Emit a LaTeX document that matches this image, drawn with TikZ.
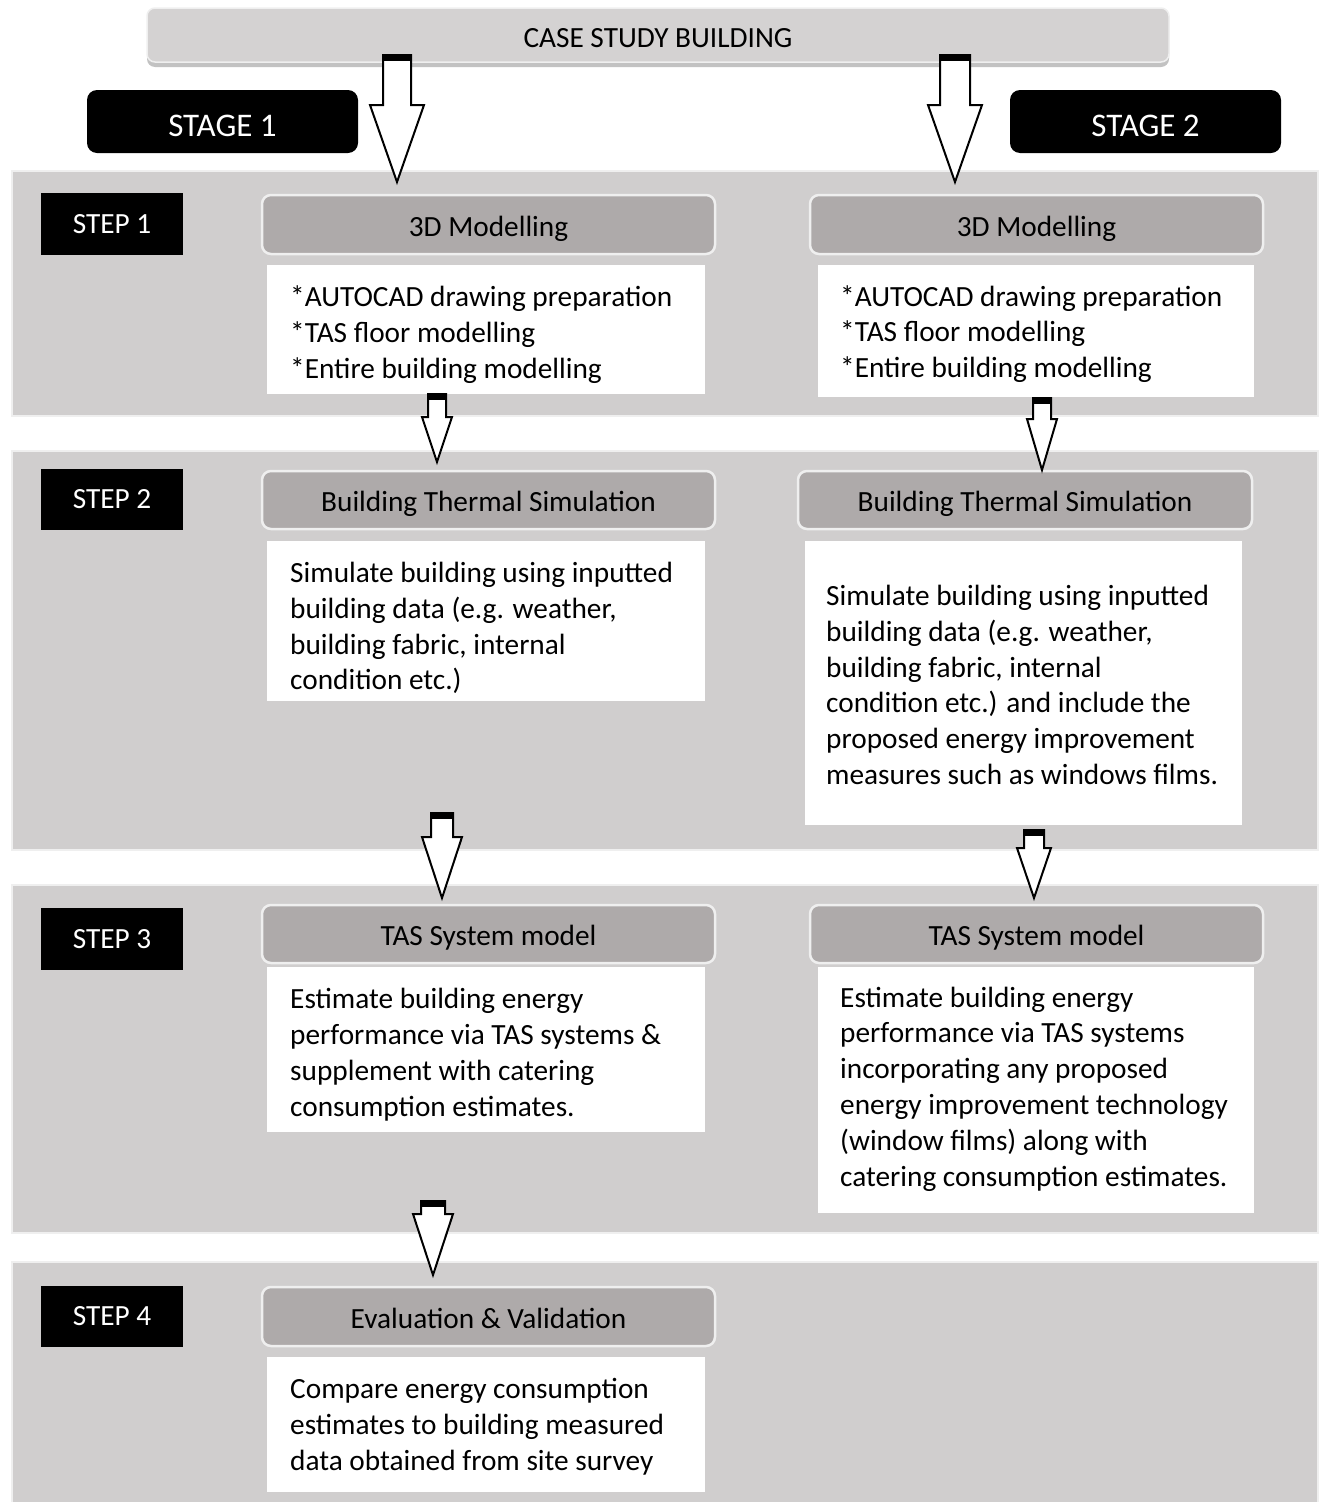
\documentclass[tikz,border=0pt]{standalone}
\usepackage{fontspec}
\setmainfont{Carlito}
\usetikzlibrary{shadows}
\definecolor{bandgray}{HTML}{D0CECE}
\definecolor{headgray}{HTML}{AEAAAA}
\definecolor{casegray}{HTML}{D4D2D2}
\definecolor{edgegray}{HTML}{EFEFEF}
\newcommand{\fbody}{\fontsize{29.3}{35.8}\selectfont}
\newcommand{\fstage}{\fontsize{33}{39}\selectfont}
% name, cx, top, head, tip, shaft half width, head half width
\newcommand{\blkarrow}[7]{%
  \coordinate (#1-s) at (#2,#3);
  \coordinate (#1-e) at (#2,#5);
  \filldraw[fill=white,draw=black,line width=2pt,line join=miter]
    ([xshift=-#6pt]#1-s) -- ({#2-#6},#4) -- ({#2-#7},#4) -- (#1-e)
    -- ({#2+#7},#4) -- ({#2+#6},#4) -- ([xshift=#6pt]#1-s) -- cycle;
  \fill[black] ({#2-#6-1},#3) rectangle ({#2+#6+1},{#3+6});
}
\begin{document}
\begin{tikzpicture}[x=1pt,y=-1pt,
  box/.style={anchor=north west, inner sep=0pt, outer sep=0pt},
  sz/.style 2 args={minimum width=#1pt, minimum height=#2pt},
  band/.style={box, fill=bandgray, draw=edgegray, line width=2.5pt},
  whitebox/.style={box, fill=white},
  headbox/.style={box, fill=headgray, draw=edgegray, line width=2.5pt, rounded corners=9pt, font=\fbody,
    text height=23pt, text depth=0pt},
  stepbox/.style={box, fill=black, text=white, font=\fbody},
  stagebox/.style={box, fill=black, text=white, rounded corners=10pt, font=\fstage,
    text height=29pt, text depth=0pt},
  casebox/.style={box, fill=casegray, draw=edgegray, line width=1.5pt, rounded corners=8pt, font=\fbody,
    text height=25pt, text depth=0pt,
    drop shadow={shadow xshift=0pt, shadow yshift=-5pt, opacity=0.4, fill=black!60}},
  body/.style={anchor=west, align=left, inner sep=0pt, font=\fbody}
]
\useasboundingbox (0,0) rectangle (1322,1502);

% bands
\node[band, sz={1306}{245}] (band1) at (12,171) {};
\node[band, sz={1306}{399}] (band2) at (12,451) {};
\node[band, sz={1306}{348}] (band3) at (12,885) {};
\node[band, sz={1306}{245}] (band4) at (12,1262) {};

% top
\node[casebox, sz={1022}{54}] (case) at (147,8) {CASE STUDY BUILDING};
\node[stagebox, sz={271}{63}] (stage1) at (87,90) {STAGE 1};
\node[stagebox, sz={271}{63}] (stage2) at (1010,90) {STAGE 2};

% step labels
\node[stepbox, sz={142}{62}] (step1) at (41,193) {STEP 1};
\node[stepbox, sz={142}{61}] (step2) at (41,469) {STEP 2};
\node[stepbox, sz={142}{62}] (step3) at (41,908) {STEP 3};
\node[stepbox, sz={142}{61}] (step4) at (41,1286) {STEP 4};

% headers
\node[headbox, sz={453}{59}] (h1l) at (262,195) {3D Modelling};
\node[headbox, sz={453}{59}] (h1r) at (810,195) {3D Modelling};
\node[headbox, sz={453}{58}] (h2l) at (262,471) {Building Thermal Simulation};
\node[headbox, sz={454}{58}] (h2r) at (798,471) {Building Thermal Simulation};
\node[headbox, sz={453}{58}] (h3l) at (262,905) {TAS System model};
\node[headbox, sz={453}{58}] (h3r) at (810,905) {TAS System model};
\node[headbox, sz={453}{59}] (h4l) at (262,1287) {Evaluation \& Validation};

% white boxes
\node[whitebox, sz={438}{129}] (w1l) at (267,265) {};
\node[whitebox, sz={436}{132}] (w1r) at (818,265) {};
\node[whitebox, sz={438}{160}] (w2l) at (267,541) {};
\node[whitebox, sz={437}{284}] (w2r) at (805,541) {};
\node[whitebox, sz={438}{165}] (w3l) at (267,967) {};
\node[whitebox, sz={436}{246}] (w3r) at (818,967) {};
\node[whitebox, sz={438}{135}] (w4l) at (267,1357) {};

% texts
\node[body] (t1l) at ([xshift=23pt,yshift=-5pt]w1l.west) {*AUTOCAD drawing preparation\\*TAS floor modelling\\*Entire building modelling};
\node[body] (t1r) at ([xshift=22pt,yshift=-3pt]w1r.west) {*AUTOCAD drawing preparation\\*TAS floor modelling\\*Entire building modelling};
\node[body] (t2l) at ([xshift=23pt,yshift=-7pt]w2l.west) {Simulate building using inputted\\building data (e.g. weather,\\building fabric, internal\\condition etc.)};
\node[body] (t2r) at ([xshift=21pt,yshift=-2pt]w2r.west) {Simulate building using inputted\\building data (e.g. weather,\\building fabric, internal\\condition etc.) and include the\\proposed energy improvement\\measures such as windows films.};
\node[body] (t3l) at ([xshift=23pt,yshift=-5pt]w3l.west) {Estimate building energy\\performance via TAS systems \&\\supplement with catering\\consumption estimates.};
\node[body] (t3r) at ([xshift=22pt,yshift=1pt]w3r.west) {Estimate building energy\\performance via TAS systems\\incorporating any proposed\\energy improvement technology\\(window films) along with\\catering consumption estimates.};
\node[body] (t4l) at ([xshift=23pt,yshift=-2pt]w4l.west) {Compare energy consumption\\estimates to building measured\\data obtained from site survey};

% arrows
\blkarrow{a0l}{397}{55}{105}{182}{14}{27}
\blkarrow{a0r}{955}{55}{105}{182}{15}{27}
\blkarrow{a1l}{437}{394}{417}{462}{9}{15}
\blkarrow{a1r}{1042}{398}{419}{470}{9}{15}
\blkarrow{a2l}{442}{813}{837}{898}{11}{20}
\blkarrow{a2r}{1034}{830}{848}{898}{10}{17}
\blkarrow{a3l}{433}{1201}{1214}{1275}{12}{20}
\end{tikzpicture}
\end{document}
